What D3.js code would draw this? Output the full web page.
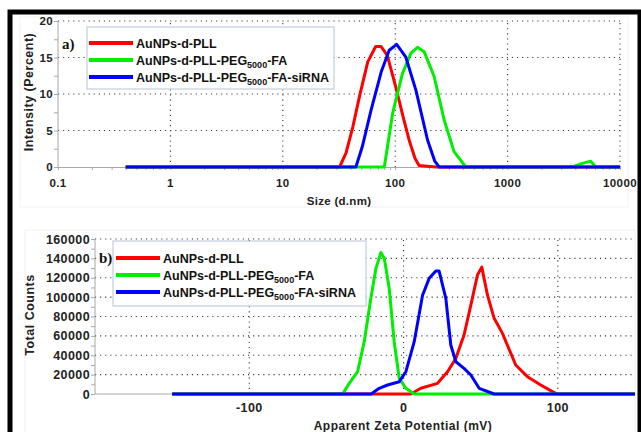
<!DOCTYPE html>
<html>
<head>
<meta charset="utf-8">
<script src="https://cdn.jsdelivr.net/npm/d3@7"></script>
<style>
  body { margin: 0; background: #fff; }
  svg { display: block; }
  .tick-label { font-family: "Liberation Sans", Arial, sans-serif; font-weight: bold; font-size: 11.5px; letter-spacing: 0.4px; fill: #222; }
  .tick-label.big { font-size: 12.5px; }
  .axis-title { font-family: "Liberation Sans", Arial, sans-serif; font-weight: bold; font-size: 11.5px; letter-spacing: 0.3px; fill: #222; }
  .axis-title.big { font-size: 12px; letter-spacing: 0.5px; }
  .axis-title.ytitle { font-size: 12.5px; letter-spacing: 0.5px; }
  .legend-text { font-family: "Liberation Sans", Arial, sans-serif; font-weight: bold; font-size: 12.5px; fill: #111; }
  .panel-tag { font-family: "Liberation Serif", "Times New Roman", serif; font-weight: bold; font-size: 15px; fill: #111; }
</style>
</head>
<body>
<svg id="chart" width="641" height="432"></svg>
<script>
"use strict";

/* global d3 */

// legend labels (sub = subscript part)
var seriesNames = [
    [{ t: "AuNPs-d-PLL" }],
    [{ t: "AuNPs-d-PLL-PEG" }, { t: "5000", sub: true }, { t: "-FA" }],
    [{ t: "AuNPs-d-PLL-PEG" }, { t: "5000", sub: true }, { t: "-FA-siRNA" }]
];
var seriesColors = ["#ff0000", "#00ee00", "#0000ff"];

// panel a) size distribution, [size d.nm, intensity %]
var sizeTicks = [0.1, 1, 10, 100, 1000, 10000];
var intensityTicks = [0, 5, 10, 15, 20];
var dlsPLL = [[0.4, 0], [32, 0], [36.5, 1.9], [42, 5.5], [48, 9.6], [57, 14.4], [67, 16.5], [75, 16.5],
    [85, 15.3], [101, 11], [117, 7], [133, 3.7], [150, 1.2], [163, 0.2], [230, 0], [10000, 0]];
var dlsPEG = [[0.4, 0], [80, 0], [95, 7.4], [116, 12.8], [138, 15.6], [158, 16.4], [181, 15.8],
    [222, 12.4], [273, 6.4], [334, 2.1], [425, 0], [3770, 0], [4620, 0.5], [5490, 0.8], [6080, 0], [10000, 0]];
var dlsSiRNA = [[0.4, 0], [44.7, 0], [51, 2.8], [61, 7.8], [75, 13], [88.5, 16], [103, 16.8],
    [124, 15.1], [153, 10.5], [194, 3.7], [225, 0.8], [246, 0], [10000, 0]];

// panel b) zeta potential, [mV, total counts]
var zetaTicks = [-100, 0, 100];
var countTicks = [0, 20000, 40000, 60000, 80000, 100000, 120000, 140000, 160000];
var zetaPLL = [[-150, 0], [4.7, 0], [11.2, 5900], [22, 11000], [28.5, 23000], [33.9, 36800], [39.2, 60900],
    [43.6, 91800], [47.9, 122800], [50.7, 131000], [54.4, 102000], [58.7, 78100], [64.1, 62600],
    [72.7, 29900], [80.3, 17900], [88.9, 9300], [96.5, 2400], [99.7, 0], [150, 0]];
var zetaPEG = [[-150, 0], [-39.5, 0], [-35.2, 11000], [-29.8, 23000], [-25.5, 54000], [-21.2, 98800],
    [-17.9, 129700], [-14.7, 146000], [-12.5, 140000], [-9.3, 109000], [-6.1, 54000], [-2.8, 16200],
    [1.5, 5900], [6.9, 0], [150, 0]];
var zetaSiRNA = [[-150, 0], [-21, 0], [-15.8, 5900], [-10.4, 9300], [-2.8, 12700], [1.5, 23000],
    [6.9, 54000], [12.3, 102000], [16.6, 119400], [20.9, 127000], [23, 127000], [27.4, 98800],
    [30.6, 50600], [33.9, 33300], [39.2, 26500], [43.6, 19600], [49, 5900], [58.7, 0], [150, 0]];

var svg = d3.select("#chart");
var axisGrey = "#a8a8a8";

// figure frame
svg.append("rect").attr("x", 10).attr("y", 12).attr("width", 630).attr("height", 430)
    .attr("fill", "none").attr("stroke", "#000").attr("stroke-width", 5);
svg.append("rect").attr("x", 20).attr("y", 17).attr("width", 608).attr("height", 190)
    .attr("fill", "none").attr("stroke", "#f2f2f2");
svg.append("rect").attr("x", 25).attr("y", 230).attr("width", 610).attr("height", 205)
    .attr("fill", "none").attr("stroke", "#f2f2f2");

function drawLegend(g, x0, y0, tag, tagX, tagY, box) {
    g.append("rect").attr("x", box[0]).attr("y", box[1]).attr("width", box[2]).attr("height", box[3])
        .attr("fill", "#fff").attr("stroke", "#b8c4d8").attr("stroke-width", 1);
    g.append("text").attr("class", "panel-tag").attr("x", tagX).attr("y", tagY).text(tag);
    seriesNames.forEach(function (parts, i) {
        var y = y0 + i * 17;
        g.append("line").attr("x1", x0).attr("x2", x0 + 44).attr("y1", y).attr("y2", y)
            .attr("stroke", seriesColors[i]).attr("stroke-width", 4);
        var txt = g.append("text").attr("class", "legend-text").attr("x", x0 + 47).attr("y", y + 4.5);
        parts.forEach(function (p, j) {
            var ts = txt.append("tspan").text(p.t);
            if (p.sub) {
                ts.attr("font-size", "9px").attr("dy", 3);
            } else if (j > 0 && parts[j - 1].sub) {
                ts.attr("dy", -3);
            }
        });
    });
}

function drawSeries(g, datasets, x, y) {
    var line = d3.line().x(function (d) { return x(d[0]); }).y(function (d) { return y(d[1]); });
    datasets.forEach(function (data, i) {
        g.append("path").datum(data).attr("d", line)
            .attr("fill", "none").attr("stroke", seriesColors[i]).attr("stroke-width", 3)
            .attr("stroke-linejoin", "round");
    });
}

function gridDots(sel) {
    sel.attr("stroke", "#333").attr("stroke-width", 1.1).attr("stroke-dasharray", "1.1,4");
}

// ---------- panel a ----------
var xa = d3.scaleLog().domain([0.1, 10000]).range([58, 620]);
var ya = d3.scaleLinear().domain([0, 20]).range([167, 21]);
var ga = svg.append("g");

ga.selectAll("line.hgrid").data(intensityTicks.slice(1)).enter().append("line")
    .attr("x1", xa(0.1)).attr("x2", xa(10000))
    .attr("y1", function (d) { return ya(d); }).attr("y2", function (d) { return ya(d); })
    .call(gridDots);
ga.selectAll("line.vgrid").data(sizeTicks.slice(1)).enter().append("line")
    .attr("x1", function (d) { return xa(d); }).attr("x2", function (d) { return xa(d); })
    .attr("y1", ya(0)).attr("y2", ya(20))
    .call(gridDots);

var yAxisA = d3.axisLeft(ya).tickValues(d3.range(0, 20.1, 2.5)).tickSize(4).tickFormat("");
ga.append("g").attr("transform", "translate(" + xa(0.1) + ",0)").call(yAxisA)
    .call(function (s) { s.selectAll("line,path").attr("stroke", axisGrey); s.select(".domain").attr("d", "M0," + ya(0) + "V" + ya(20)); });
var xMinorA = [];
[0.1, 1, 10, 100, 1000].forEach(function (b) { for (var k = 1; k < 10; k++) { xMinorA.push(b * k); } });
xMinorA.push(10000);
var xAxisA = d3.axisBottom(xa).tickValues(xMinorA).tickSize(3).tickFormat("");
ga.append("g").attr("transform", "translate(0," + ya(0) + ")").call(xAxisA)
    .call(function (s) { s.selectAll("line,path").attr("stroke", axisGrey); });

ga.selectAll("text.ylab").data(intensityTicks).enter().append("text").attr("class", "tick-label")
    .attr("x", 53).attr("y", function (d) { return ya(d) + 4; }).attr("text-anchor", "end")
    .text(function (d) { return d; });
ga.selectAll("text.xlab").data(sizeTicks).enter().append("text").attr("class", "tick-label")
    .attr("x", function (d) { return xa(d); }).attr("y", 187).attr("text-anchor", "middle")
    .text(function (d) { return d; });
ga.append("text").attr("class", "axis-title").attr("x", 339).attr("y", 205).attr("text-anchor", "middle")
    .text("Size (d.nm)");
ga.append("text").attr("class", "axis-title ytitle").attr("text-anchor", "middle")
    .attr("transform", "translate(33,92) rotate(-90)").text("Intensity (Percent)");

drawSeries(ga, [dlsPLL, dlsPEG, dlsSiRNA], xa, ya);
drawLegend(ga, 89, 43, "a)", 62, 49, [87, 27, 247, 62]);

// ---------- panel b ----------
var xb = d3.scaleLinear().domain([-200, 150]).range([95, 635]);
var yb = d3.scaleLinear().domain([0, 160000]).range([394, 239]);
var gb = svg.append("g");

gb.selectAll("line.hgrid").data(countTicks.slice(1)).enter().append("line")
    .attr("x1", xb(-200)).attr("x2", xb(150))
    .attr("y1", function (d) { return yb(d); }).attr("y2", function (d) { return yb(d); })
    .call(gridDots);
gb.selectAll("line.vgrid").data(zetaTicks).enter().append("line")
    .attr("x1", function (d) { return xb(d); }).attr("x2", function (d) { return xb(d); })
    .attr("y1", yb(0)).attr("y2", yb(160000))
    .call(gridDots);

var yAxisB = d3.axisLeft(yb).tickValues(d3.range(0, 160001, 10000)).tickSize(4).tickFormat("");
gb.append("g").attr("transform", "translate(" + xb(-200) + ",0)").call(yAxisB)
    .call(function (s) { s.selectAll("line,path").attr("stroke", axisGrey); s.select(".domain").attr("d", "M0," + yb(0) + "V" + yb(160000)); });
gb.append("line").attr("x1", xb(-200)).attr("x2", xb(150)).attr("y1", yb(0)).attr("y2", yb(0))
    .attr("stroke", axisGrey);

gb.selectAll("text.ylab").data(countTicks).enter().append("text").attr("class", "tick-label big")
    .attr("x", 90).attr("y", function (d) { return yb(d) + 4.5; }).attr("text-anchor", "end")
    .text(function (d) { return d; });
gb.selectAll("text.xlab").data(zetaTicks).enter().append("text").attr("class", "tick-label big")
    .attr("x", function (d) { return xb(d); }).attr("y", 412).attr("text-anchor", "middle")
    .text(function (d) { return d; });
gb.append("text").attr("class", "axis-title big").attr("x", 403).attr("y", 430).attr("text-anchor", "middle")
    .text("Apparent Zeta Potential (mV)");
gb.append("text").attr("class", "axis-title ytitle").attr("text-anchor", "middle")
    .attr("transform", "translate(34,315) rotate(-90)").text("Total Counts");

drawSeries(gb, [zetaPLL, zetaPEG, zetaSiRNA], xb, yb);
drawLegend(gb, 116, 258, "b)", 99, 263, [113, 241, 253, 65]);
</script>
</body>
</html>
